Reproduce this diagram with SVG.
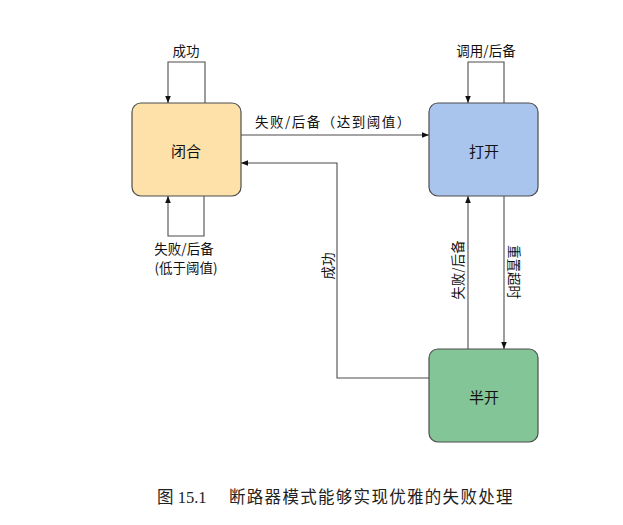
<svg xmlns="http://www.w3.org/2000/svg" width="623" height="525" viewBox="0 0 623 525">
<style>
.node{stroke:#4d4d4d;stroke-width:1.2}
.lbl{font-family:"Noto Sans CJK SC","Liberation Sans",sans-serif;font-size:15px;fill:#111;text-anchor:middle;dominant-baseline:central}
.el{font-family:"Noto Sans CJK SC","Liberation Sans",sans-serif;font-size:13.5px;fill:#111;text-anchor:middle}
.ln{fill:none;stroke:#4d4d4d;stroke-width:1.1}
.cap{font-family:"Liberation Serif","Noto Sans CJK SC",serif;font-size:16.5px;fill:#222}
</style>
<defs>
<marker id="ah" viewBox="0 0 10 10" refX="10" refY="5" markerWidth="7" markerHeight="7" orient="auto" markerUnits="userSpaceOnUse">
<path d="M0,1 L10,5 L0,9 Z" fill="#111"/>
</marker>
</defs>
<rect width="623" height="525" fill="#fff"/>
<g id="edges">
<path class="ln" d="M205,103 V62 H168 V103" marker-end="url(#ah)"/>
<text class="el" x="186" y="56">成功</text>
<path class="ln" d="M204,196 V236 H168 V196" marker-end="url(#ah)"/>
<text class="el" x="184" y="254">失败/后备</text>
<text class="el" x="186" y="273">(低于阈值)</text>
<path class="ln" d="M241,135 H429" marker-end="url(#ah)"/>
<text class="el" x="255" y="127" style="text-anchor:start" letter-spacing="1.5">失败/后备（达到阈值）</text>
<path class="ln" d="M504,103 V62 H468 V103" marker-end="url(#ah)"/>
<text class="el" x="486" y="56">调用/后备</text>
<path class="ln" d="M429,378 H337 V163 H241" marker-end="url(#ah)"/>
<text class="el" transform="translate(333,266) rotate(-90)">成功</text>
<path class="ln" d="M468,349 V196" marker-end="url(#ah)"/>
<text class="el" transform="translate(463,270) rotate(-90)">失败/后备</text>
<path class="ln" d="M504,196 V349" marker-end="url(#ah)"/>
<text class="el" transform="translate(509,272) rotate(90)">重置超时</text>
</g>
<g id="closed">
<rect class="node" x="132" y="103" width="109" height="93" rx="9" fill="#fde1a8"/>
<text class="lbl" x="186" y="150">闭合</text>
</g>
<g id="open">
<rect class="node" x="429" y="103" width="109" height="93" rx="9" fill="#a9c5ee"/>
<text class="lbl" x="484" y="150">打开</text>
</g>
<g id="halfopen">
<rect class="node" x="429" y="349" width="109" height="93" rx="9" fill="#84c598"/>
<text class="lbl" x="484" y="396">半开</text>
</g>
<g id="caption">
<text class="cap" x="157" y="503">图 15.1</text>
<text class="cap" x="229" y="503" letter-spacing="1.3">断路器模式能够实现优雅的失败处理</text>
</g>
</svg>
